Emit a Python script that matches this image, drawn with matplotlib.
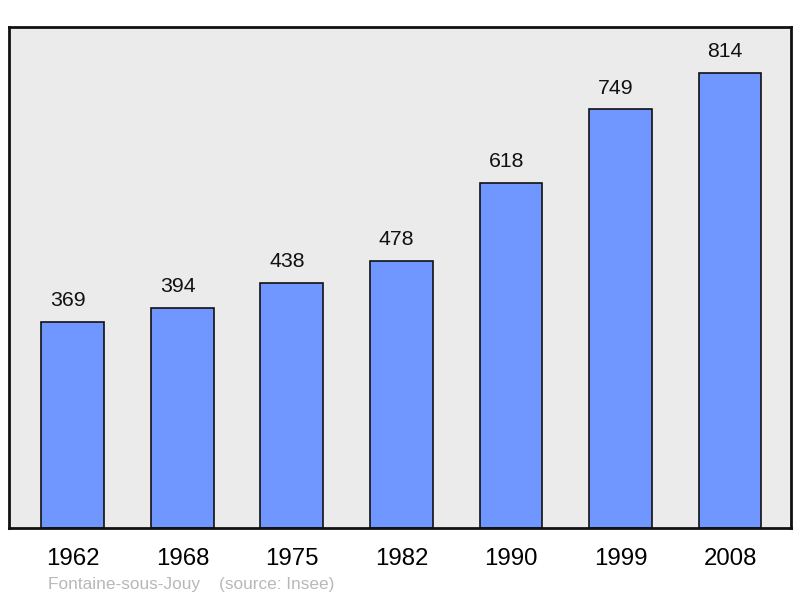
import matplotlib
matplotlib.use("Agg")
import matplotlib.pyplot as plt

years = ["1962", "1968", "1975", "1982", "1990", "1999", "2008"]
population = [369, 394, 438, 478, 618, 749, 814]
footer_place = "Fontaine-sous-Jouy"
footer_source = "(source: Insee)"

plt.rcParams['font.family'] = ['Liberation Sans', 'DejaVu Sans']

fig = plt.figure(figsize=(8.0, 5.98), dpi=100)
ax = fig.add_axes([9/800, 70/598, 782/800, 501/598])
ax.set_facecolor('#EBEBEB')
x = list(range(len(years)))
bars = ax.bar(x, population, width=0.575, color='#7096FF', edgecolor='#111111', linewidth=1.2, zorder=2)
for xi, v in zip(x, population):
    ax.annotate(str(v), (xi, v), xytext=(-3.5, 8.5), textcoords='offset points',
                ha='center', va='bottom', fontsize=15.3, color='#111111')
ax.set_xlim(-0.584, 6.557)
ax.set_ylim(0, 896.5)
ax.set_yticks([])
ax.set_xticks(x)
ax.set_xticklabels(years, fontsize=17.3)
ax.tick_params(axis='x', length=0, pad=14.5)
for s in ax.spines.values():
    s.set_linewidth(2)
    s.set_color('#111111')
fig.text(48/800, 1 - 584/598, footer_place + "    " + footer_source, fontsize=12.45,
         color='#B8B8B8', ha='left', va='center')
fig.savefig('out.png', dpi=100)
